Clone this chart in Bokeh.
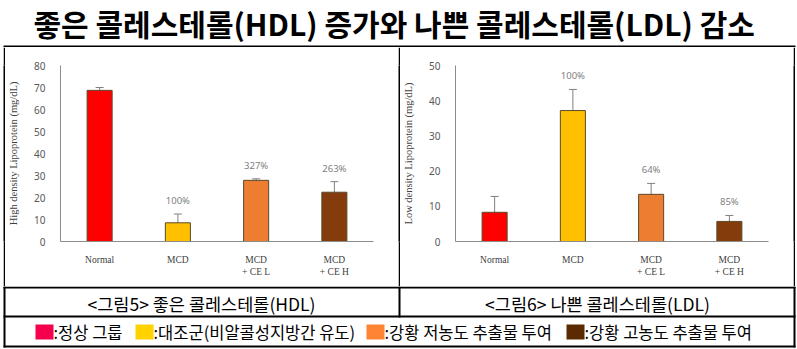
from bokeh.plotting import figure
from bokeh.layouts import column, row
from bokeh.models import (ColumnDataSource, Range1d, FactorRange, FixedTicker,
                          Whisker, TeeHead, LabelSet, Spacer)
from bokeh.core.properties import value
from bokeh.embed import file_html
from bokeh.resources import INLINE

# ---------------- data ----------------
title_text = "좋은 콜레스테롤(HDL) 증가와 나쁜 콜레스테롤(LDL) 감소"
groups = ["Normal", "MCD", "MCD\n+ CE L", "MCD\n+ CE H"]
bar_colors = ["#FF0000", "#FFC000", "#ED7D31", "#843C0C"]

hdl_values = [68.7, 8.5, 27.8, 22.4]
hdl_errors = [1.3, 4.0, 0.7, 4.8]
hdl_pct = ["", "100%", "327%", "263%"]
hdl_ticks = [0, 10, 20, 30, 40, 50, 60, 70, 80]
hdl_ylabel = "High density Lipoprotein (mg/dL)"

ldl_values = [8.3, 37.2, 13.4, 5.7]
ldl_errors = [4.5, 6.0, 3.1, 1.7]
ldl_pct = ["", "100%", "64%", "85%"]
ldl_ticks = [0, 10, 20, 30, 40, 50]
ldl_ylabel = "Low density Lipoprotein (mg/dL)"

captions = ["<그림5> 좋은 콜레스테롤(HDL)", "<그림6> 나쁜 콜레스테롤(LDL)"]
legend_colors = ["#F5004F", "#FFD200", "#FF8433", "#5C2A00"]
legend_labels = [":정상 그룹", ":대조군(비알콜성지방간 유도)", ":강황 저농도 추출물 투여", ":강황 고농도 추출물 투여"]

KFONT = "Noto Sans CJK KR"
AXIS_GRAY = "#8c8c8c"


def make_chart(values, errors, pct, ticks, ylabel, left, top, bottom):
    upper = [v + e for v, e in zip(values, errors)]
    src = ColumnDataSource(dict(cats=groups, vals=values, upper=upper,
                                pct=pct, color=bar_colors))
    p = figure(width=393, height=239, x_range=FactorRange(*groups),
               y_range=Range1d(ticks[0], ticks[-1]), toolbar_location=None,
               output_backend="svg", min_border_left=left, min_border_right=25,
               min_border_top=top, min_border_bottom=bottom,
               outline_line_color=None)
    p.vbar(x="cats", top="vals", width=0.32, source=src, fill_color="color",
           line_color="#5a4a2a", line_width=1)
    w = Whisker(source=src, base="cats", upper="upper", lower="vals",
                dimension="height", line_color="#808080", line_width=1,
                upper_head=TeeHead(size=8, line_color="#808080", line_width=1),
                lower_head=None)
    p.add_layout(w)
    labels = LabelSet(x="cats", y="upper", text="pct", source=src,
                      text_align="center", text_baseline="bottom", y_offset=7,
                      text_font=value("Noto Sans"), text_font_size=value("9.5px"),
                      text_color="#808080")
    p.add_layout(labels)
    p.xgrid.visible = False
    p.ygrid.visible = False
    ya = p.yaxis[0]
    ya.ticker = FixedTicker(ticks=ticks)
    ya.axis_label = ylabel
    ya.axis_label_text_font = "Liberation Serif"
    ya.axis_label_text_font_style = "normal"
    ya.axis_label_text_font_size = "10.5px"
    ya.axis_label_text_color = "#404040"
    ya.axis_label_standoff = 12
    ya.major_label_standoff = 9
    ya.major_tick_line_color = None
    ya.minor_tick_line_color = None
    ya.axis_line_color = AXIS_GRAY
    ya.major_label_text_font = "Noto Sans"
    ya.major_label_text_font_size = "10px"
    ya.major_label_text_color = "#595959"
    xa = p.xaxis[0]
    xa.major_label_text_font = "Liberation Serif"
    xa.major_label_text_font_size = "9.5px"
    xa.major_label_text_color = "#404040"
    xa.major_label_standoff = 7
    xa.major_tick_line_color = None
    xa.minor_tick_line_color = None
    xa.axis_line_color = AXIS_GRAY
    return p


def canvas(w, h):
    p = figure(width=w, height=h, x_range=Range1d(0, w), y_range=Range1d(h, 0),
               min_border=0, toolbar_location=None, output_backend="svg",
               x_axis_type=None, y_axis_type=None, outline_line_color=None)
    p.grid.visible = False
    return p


def blk(w, h):
    p = figure(width=w, height=h, min_border=0, toolbar_location=None,
               output_backend="svg", x_axis_type=None, y_axis_type=None,
               outline_line_color=None, background_fill_color="black",
               border_fill_color="black")
    p.grid.visible = False
    return p


# title + top border
tp = canvas(797, 47)
tp.text(x=[33], y=[22], text=[title_text], text_font=value(KFONT),
        text_font_size=value("30px"), text_font_style="bold",
        text_baseline="middle", text_align="left", text_color="black")
tp.quad(left=[3], right=[795], top=[45], bottom=[47], fill_color="black",
        line_color=None)

c1 = make_chart(hdl_values, hdl_errors, hdl_pct, hdl_ticks, hdl_ylabel, 48, 11, 42)
c2 = make_chart(ldl_values, ldl_errors, ldl_pct, ldl_ticks, ldl_ylabel, 46, 18, 45)

mid = row(Spacer(width=3, height=239), blk(2, 239), c1, blk(2, 239), c2,
          blk(2, 239), Spacer(width=2, height=239))

# captions + legend
bp = canvas(797, 63)
bp.quad(left=[3, 3, 3, 3, 793, 398], right=[795, 795, 795, 5, 795, 400],
        top=[0, 29, 59, 0, 0, 0], bottom=[2, 31, 61, 61, 61, 31],
        fill_color="black", line_color=None)
bp.text(x=[201, 597], y=[16.5, 16.5], text=captions, text_font=value(KFONT),
        text_font_size=value("17.5px"), text_baseline="middle", text_align="center",
        text_color="black")
sq_left = [35, 135, 366, 566]
sq_w = 18
bp.quad(left=sq_left, right=[x + sq_w for x in sq_left], top=[38] * 4,
        bottom=[53] * 4, fill_color=legend_colors, line_color=None)
bp.text(x=[x + sq_w for x in sq_left], y=[45.5] * 4, text=legend_labels,
        text_font=value(KFONT), text_font_size=value("16.5px"),
        text_baseline="middle", text_align="left", text_color="black")

layout = column(tp, mid, bp)
open("out.html", "w").write(file_html(layout, INLINE))
